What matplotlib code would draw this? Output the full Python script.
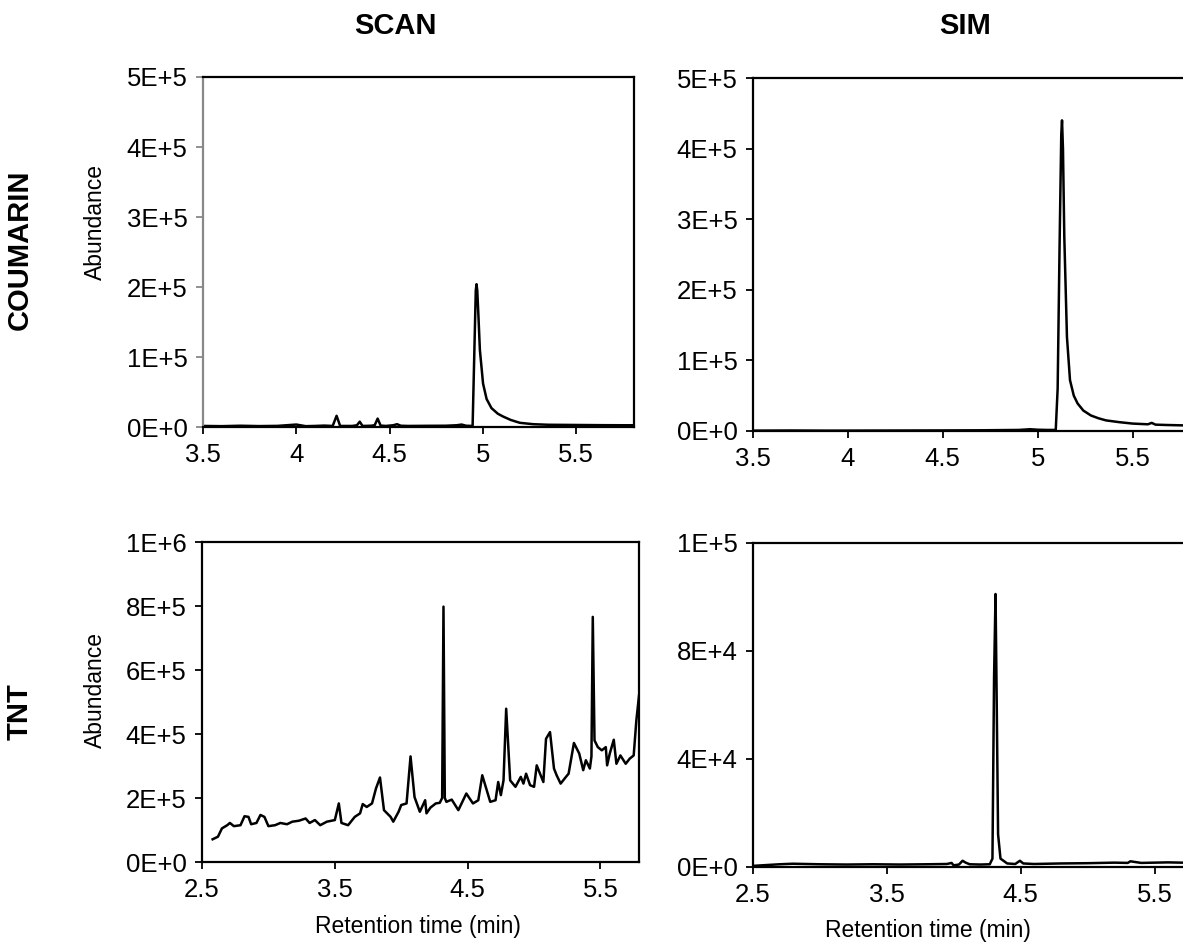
import matplotlib.pyplot as plt

plt.rcParams['font.family'] = ['Liberation Sans', 'DejaVu Sans']

# ---- data ----
# COUMARIN, SCAN mode
coum_scan_t = [3.50, 3.60, 3.70, 3.80, 3.90, 4.00, 4.05, 4.10, 4.15, 4.195, 4.216,
               4.235, 4.30, 4.325, 4.34, 4.355, 4.40, 4.42, 4.436, 4.452, 4.48,
               4.52, 4.54, 4.56, 4.60, 4.70, 4.80, 4.86, 4.886, 4.91, 4.945,
               4.962, 4.966, 4.970, 4.976, 4.984, 5.001, 5.02, 5.046, 5.08, 5.108,
               5.15, 5.198, 5.27, 5.35, 5.45, 5.55, 5.65, 5.75, 5.82]
coum_scan_v = [1500, 1200, 1800, 1300, 1600, 3500, 1200, 1500, 2000, 1500, 16000,
               1500, 1500, 2500, 7600, 1500, 1800, 2500, 12000, 2000, 1500,
               2500, 4000, 1800, 1500, 1700, 1800, 2500, 3500, 1800, 1500,
               195000, 204000, 195000, 160000, 110000, 62000, 40000, 27000, 19000, 15000,
               10000, 6000, 4000, 3200, 3000, 2800, 2600, 2500, 2500]

# COUMARIN, SIM mode
coum_sim_t = [3.50, 3.70, 3.90, 4.10, 4.30, 4.50, 4.70, 4.90, 4.96, 5.00, 5.05,
              5.095, 5.105, 5.115, 5.124, 5.128, 5.133, 5.140, 5.154, 5.17, 5.19,
              5.21, 5.24, 5.28, 5.32, 5.36, 5.43, 5.50, 5.58, 5.60, 5.62, 5.68,
              5.76, 5.80]
coum_sim_v = [500, 700, 500, 600, 700, 800, 1000, 1500, 2500, 1800, 1500,
              1500, 60000, 260000, 420000, 440000, 400000, 275000, 133000, 72000, 50000,
              39000, 29000, 22000, 18000, 15000, 12500, 10500, 9500, 11500, 9000, 8500,
              8000, 7800]

# TNT, SCAN mode
tnt_scan_t = [2.58, 2.62, 2.65, 2.69, 2.71, 2.74, 2.79, 2.82, 2.85, 2.87, 2.91, 2.94,
              2.97, 3.00, 3.05, 3.09, 3.14, 3.18, 3.23, 3.28, 3.31, 3.35, 3.39, 3.44,
              3.50, 3.53, 3.55, 3.60, 3.65, 3.69, 3.71, 3.74, 3.78, 3.81, 3.84, 3.87,
              3.92, 3.94, 3.98, 4.00, 4.04, 4.07, 4.10, 4.14, 4.18, 4.19, 4.22, 4.26,
              4.29, 4.308, 4.318, 4.328, 4.34, 4.38, 4.43, 4.49, 4.54, 4.58, 4.61,
              4.67, 4.71, 4.73, 4.75, 4.77, 4.79, 4.82, 4.86, 4.90, 4.92, 4.94, 4.97,
              5.00, 5.02, 5.04, 5.07, 5.09, 5.12, 5.15, 5.17, 5.20, 5.24, 5.26, 5.30,
              5.34, 5.37, 5.39, 5.42, 5.432, 5.442, 5.455, 5.48, 5.51, 5.54, 5.55,
              5.57, 5.60, 5.62, 5.65, 5.69, 5.72, 5.75, 5.77, 5.79]
tnt_scan_v = [71, 79, 105, 115, 122, 112, 115, 143, 141, 118, 122, 147,
              141, 112, 115, 122, 118, 126, 129, 136, 122, 131, 115, 126,
              131, 183, 122, 115, 141, 152, 181, 172, 183, 230, 264, 162,
              141, 126, 157, 178, 183, 330, 203, 157, 193, 152, 170, 183,
              185, 200, 798, 200, 188, 195, 162, 214, 183, 193, 271,
              188, 193, 250, 209, 255, 479, 255, 235, 266, 245, 276, 240,
              235, 302, 281, 250, 385, 406, 292, 271, 245, 266, 276, 372,
              339, 287, 318, 292, 330, 766, 380, 359, 349, 359, 302,
              339, 382, 307, 333, 307, 323, 333, 442, 520]
tnt_scan_v = [v * 1000 for v in tnt_scan_v]

# TNT, SIM mode
tnt_sim_t = [2.50, 2.60, 2.70, 2.80, 3.00, 3.20, 3.40, 3.60, 3.80, 3.95, 3.985,
             4.00, 4.04, 4.067, 4.09, 4.12, 4.20, 4.27, 4.290, 4.302, 4.313,
             4.322, 4.332, 4.35, 4.40, 4.46, 4.495, 4.52, 4.60, 4.80, 5.00, 5.20,
             5.30, 5.32, 5.40, 5.50, 5.60, 5.70, 5.80]
tnt_sim_v = [300, 600, 900, 1100, 900, 800, 900, 800, 900, 1000, 1400,
             500, 800, 2200, 1500, 900, 800, 900, 3000, 70000, 101000,
             60000, 12000, 3000, 1200, 1000, 2200, 1200, 1000, 1200, 1300, 1500,
             1400, 2000, 1400, 1500, 1600, 1500, 1500]

# axis ticks / labels
coum_yticks = [0, 1e5, 2e5, 3e5, 4e5, 5e5]
coum_ylabels = ['0E+0', '1E+5', '2E+5', '3E+5', '4E+5', '5E+5']
coum_xticks = [3.5, 4, 4.5, 5, 5.5]
coum_xlabels = ['3.5', '4', '4.5', '5', '5.5']
tnt_scan_yticks = [0, 2e5, 4e5, 6e5, 8e5, 1e6]
tnt_scan_ylabels = ['0E+0', '2E+5', '4E+5', '6E+5', '8E+5', '1E+6']
tnt_sim_yticks = [0, 4e4, 8e4, 1.2e5]
tnt_sim_ylabels = ['0E+0', '4E+4', '8E+4', '1E+5']
tnt_xticks = [2.5, 3.5, 4.5, 5.5]
tnt_xlabels = ['2.5', '3.5', '4.5', '5.5']

W, H = 1183, 947
fig = plt.figure(figsize=(W / 100, H / 100), dpi=100)


def add_panel(left, top, width, height):
    return fig.add_axes([left / W, 1 - (top + height) / H, width / W, height / H])


def style(ax, xticks, xlabels, yticks, ylabels, left_color='black'):
    for s in ax.spines.values():
        s.set_linewidth(1.6)
        s.set_color('black')
    ax.spines['left'].set_color(left_color)
    ax.set_xticks(xticks)
    ax.set_xticklabels(xlabels)
    ax.set_yticks(yticks)
    ax.set_yticklabels(ylabels)
    ax.tick_params(axis='both', direction='out', length=5, width=1.3,
                   labelsize=18.5, colors='black')
    ax.tick_params(axis='x', pad=6.5)
    ax.tick_params(axis='y', pad=6, color=left_color)


ax1 = add_panel(203, 77, 431, 350)
ax1.plot(coum_scan_t, coum_scan_v, color='black', lw=1.8)
ax1.set_xlim(3.5, 5.81)
ax1.set_ylim(0, 5e5)
style(ax1, coum_xticks, coum_xlabels, coum_yticks, coum_ylabels, left_color='#888888')

ax2 = add_panel(752.7, 78, 437, 353)
ax2.plot(coum_sim_t, coum_sim_v, color='black', lw=1.8)
ax2.set_xlim(3.5, 5.8)
ax2.set_ylim(0, 5e5)
style(ax2, coum_xticks, coum_xlabels, coum_yticks, coum_ylabels)

ax3 = add_panel(202, 542, 437, 320)
ax3.plot(tnt_scan_t, tnt_scan_v, color='black', lw=1.8)
ax3.set_xlim(2.5, 5.79)
ax3.set_ylim(0, 1e6)
style(ax3, tnt_xticks, tnt_xlabels, tnt_scan_yticks, tnt_scan_ylabels)

ax4 = add_panel(752.7, 542.7, 442, 324)
ax4.plot(tnt_sim_t, tnt_sim_v, color='black', lw=1.8)
ax4.set_xlim(2.5, 5.8)
ax4.set_ylim(0, 1.2e5)
style(ax4, tnt_xticks, tnt_xlabels, tnt_sim_yticks, tnt_sim_ylabels)


def ftext(x, y, s, **kw):
    fig.text(x / W, 1 - y / H, s, ha='center', va='center', **kw)


ftext(395, 26, 'SCAN', fontsize=21, fontweight='bold')
ftext(965, 26, 'SIM', fontsize=21, fontweight='bold')
ftext(20, 250, 'COUMARIN', fontsize=21, fontweight='bold', rotation=90)
ftext(20, 712, 'TNT', fontsize=21, fontweight='bold', rotation=90)
ftext(95, 222, 'Abundance', fontsize=16.5, rotation=90)
ftext(95, 690, 'Abundance', fontsize=16.5, rotation=90)
ftext(418, 926, 'Retention time (min)', fontsize=16.5)
ftext(928, 930, 'Retention time (min)', fontsize=16.5)

fig.savefig('out.png', dpi=100)
